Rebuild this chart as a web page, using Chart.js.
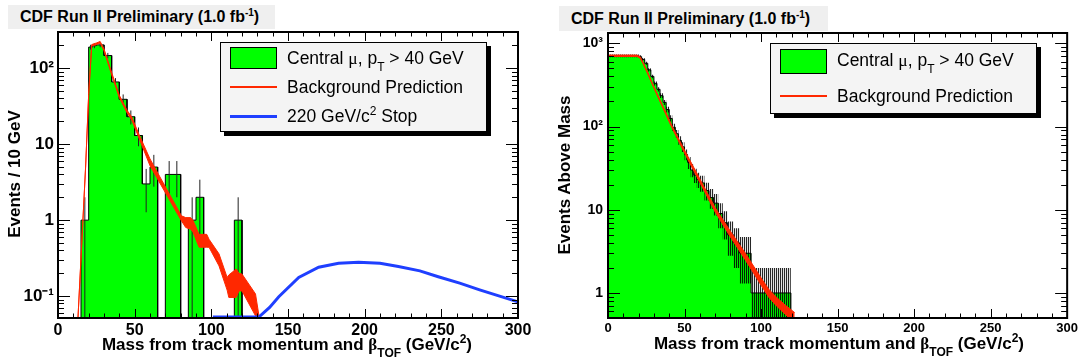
<!DOCTYPE html>
<html>
<head>
<meta charset="utf-8">
<script src="https://cdn.jsdelivr.net/npm/chart.js@4.4.1/dist/chart.umd.min.js"></script>
<style>
  body { margin: 0; background: #fff; font-family: "Liberation Sans", Arial, sans-serif; color: #000; }
  #page { position: relative; width: 1081px; height: 362px; overflow: hidden; }
  canvas { position: absolute; top: 0; }
  #leftCanvas { left: 0; }
  #rightCanvas { left: 540px; }
  .title { position: absolute; background: #efefef; font-weight: bold; font-size: 16px; line-height: 24px; white-space: nowrap; box-sizing: border-box; }
  .title sup { font-size: 10px; vertical-align: 6px; line-height: 0; }
  .legend { position: absolute; background: #f4f4f4; border: 1px solid #000; box-shadow: 4px 4px 0 #000; }
  .legend .item { position: absolute; left: 66px; font-size: 17.5px; line-height: 20px; white-space: nowrap; }
  .legend .box { position: absolute; left: 9px; width: 45px; background: #00ff00; border: 1px solid #000; }
  .legend .line { position: absolute; left: 9px; width: 47px; }
  .legend sub { font-size: 12px; vertical-align: -7px; line-height: 0; }
  .legend sup { font-size: 12px; vertical-align: 7px; line-height: 0; }
  .xtitle { position: absolute; font-weight: bold; font-size: 17px; line-height: 20px; text-align: right; white-space: nowrap; }
  .xtitle sub { font-size: 12px; vertical-align: -7px; line-height: 0; }
  .xtitle sup { font-size: 12px; vertical-align: 7px; line-height: 0; }
  .ytitle { position: absolute; font-weight: bold; font-size: 17px; line-height: 20px; white-space: nowrap; text-align: center; transform: rotate(-90deg); }
  .greek { font-family: "Liberation Serif", "DejaVu Serif", serif; }
</style>
</head>
<body>
<div id="page">
  <canvas id="leftCanvas" width="540" height="362"></canvas>
  <canvas id="rightCanvas" width="541" height="362"></canvas>

  <div class="title" style="left:8px;top:5px;width:267px;height:24px;padding-left:12px">CDF Run II Preliminary (1.0 fb<sup>-1</sup>)</div>
  <div class="title" style="left:559px;top:6px;width:269px;height:25px;padding-left:12px;line-height:25px">CDF Run II Preliminary (1.0 fb<sup>-1</sup>)</div>

  <div class="legend" style="left:220px;top:42px;width:265px;height:88px">
    <div class="box" style="top:4px;height:20px"></div>
    <div class="item" style="top:5px">Central <span class="greek">μ</span>, p<sub>T</sub> &gt; 40 GeV</div>
    <div class="line" style="top:43px;height:2px;background:#ff2800"></div>
    <div class="item" style="top:34px">Background Prediction</div>
    <div class="line" style="top:72px;height:3px;background:#1f3fff"></div>
    <div class="item" style="top:63px">220 GeV/c<sup>2</sup> Stop</div>
  </div>
  <div class="legend" style="left:770px;top:43px;width:265px;height:69px">
    <div class="box" style="top:5px;height:23px"></div>
    <div class="item" style="top:6px">Central <span class="greek">μ</span>, p<sub>T</sub> &gt; 40 GeV</div>
    <div class="line" style="top:51px;height:2px;background:#ff2800"></div>
    <div class="item" style="top:42px">Background Prediction</div>
  </div>

  <div class="xtitle" style="left:0;width:472px;top:335px">Mass from track momentum and <span class="greek">β</span><sub>TOF</sub> (GeV/c<sup>2</sup>)</div>
  <div class="xtitle" style="left:540px;width:484px;top:334px">Mass from track momentum and <span class="greek">β</span><sub>TOF</sub> (GeV/c<sup>2</sup>)</div>
  <div class="ytitle" style="left:-65px;top:164px;width:160px">Events / 10 GeV</div>
  <div class="ytitle" style="left:465px;top:165px;width:200px">Events Above Mass</div>
</div>

<script>
// left plot: mass spectrum, 5 GeV bins
const binLo = [15, 20, 22.5, 25, 30, 35, 40, 45, 50, 55, 60, 70, 75, 85, 90, 115];
const binHi = [20, 22.5, 25, 30, 35, 40, 45, 50, 55, 60, 65, 75, 80, 90, 95, 120];
const counts = [1, 190, 198, 203, 147, 66, 39, 23, 13, 3, 5, 4, 4, 1, 2, 1];
const countErr = [1, 13.8, 14.1, 14.2, 12.1, 8.1, 6.2, 4.8, 3.6, 1.73, 2.24, 2, 2, 1, 1.41, 1];

// background prediction band (left)
const bgMass = [13, 15.5, 18, 20, 22, 25, 27.5, 30, 35, 40, 45, 48, 53, 60, 80.5, 83.3, 86.5, 88, 92, 97, 98.5, 105, 110.3, 111.4, 116.2, 118, 120, 128.8, 131.4, 144];
const bgLow = [0.05, 0.5, 5, 45, 195, 205, 215, 170, 82, 41, 26, 21, 11.8, 5.2, 0.98, 0.8, 0.76, 0.7, 0.44, 0.44, 0.44, 0.25, 0.12, 0.096, 0.096, 0.117, 0.117, 0.055, 0.05, 0.05];
const bgHigh = [0.05, 0.5, 5, 45, 205, 215, 225, 180, 88, 44, 28, 23, 13.2, 6.4, 1.14, 1.08, 1.08, 1.0, 0.65, 0.65, 0.56, 0.36, 0.176, 0.19, 0.227, 0.2, 0.195, 0.107, 0.05, 0.05];

// 220 GeV/c2 stop signal
const stopMass = [101, 131, 138, 144, 157, 170, 183, 196, 210, 222, 236, 248, 262, 275, 288, 300];
const stopEvents = [0.053, 0.053, 0.071, 0.098, 0.176, 0.24, 0.27, 0.28, 0.27, 0.245, 0.215, 0.18, 0.148, 0.121, 0.1, 0.084];

// right plot: events above mass (step starts)
const cutMass = [0, 20.4, 22, 24, 26, 28, 30, 32, 34, 36, 38, 40, 42, 44, 46, 48, 50, 52, 54, 56, 58, 60, 63, 66, 69, 72, 75, 78, 82, 86, 93.5];
const eventsAbove = [705, 690, 640, 575, 480, 400, 330, 280, 235, 195, 160, 125, 98, 82, 68, 57, 46, 37, 30, 26, 23, 21, 17, 14, 12, 9, 7, 5, 4, 3, 1];
const eventsAboveErr = [26.6, 26.3, 25.3, 24, 21.9, 20, 18.2, 16.7, 15.3, 14, 12.6, 11.2, 9.9, 9.1, 8.2, 7.5, 6.8, 6.1, 5.5, 5.1, 4.8, 4.6, 4.1, 3.7, 3.5, 3, 2.6, 2.2, 2, 1.7, 1];
const cutMassEnd = 119.5;

// background prediction (right)
const predMass = [0, 19, 21, 23, 26, 30, 35, 41.7, 50, 60, 70, 80, 90, 100, 105, 110, 116, 122];
const predLow = [694, 694, 662, 563, 428, 289, 181, 97, 48, 21.3, 9.4, 4.7, 2.45, 1.24, 0.89, 0.7, 0.55, 0.43];
const predHigh = [722, 722, 690, 587, 446, 301, 191, 103, 52, 23.5, 10.6, 5.5, 2.95, 1.52, 1.11, 0.89, 0.71, 0.58];

// axis ticks
const xTickStep = 50;
const leftYTickValues = [0.1, 1, 10, 100];
const leftYTickText = ["10⁻¹", "1", "10", "10²"];
const rightYTickValues = [1, 10, 100, 1000];
const rightYTickText = ["1", "10", "10²", "10³"];

const GREEN = "#00ff00";
const RED = "#ff2800";
const BLUE = "#1f3fff";
const FLOOR = 1e-3; // below both y ranges, gets clipped

const toPoints = (xs, ys) => xs.map((x, i) => ({ x, y: ys[i] }));

const histOutline = () => {
  let pts = [];
  binLo.forEach((lo, i) => {
    const hi = binHi[i];
    if (i === 0 || binHi[i - 1] !== lo) pts.push({ x: lo, y: FLOOR });
    pts.push({ x: lo, y: counts[i] }, { x: hi, y: counts[i] });
    if (i === binLo.length - 1 || binLo[i + 1] !== hi) pts.push({ x: hi, y: FLOOR });
  });
  return pts;
};

const errorBars = () => {
  let pts = [];
  binLo.forEach((lo, i) => {
    const mid = (lo + binHi[i]) / 2;
    const low = counts[i] - countErr[i];
    pts.push({ x: mid, y: low > 0 ? low : FLOOR });
    pts.push({ x: mid, y: counts[i] + countErr[i] });
    pts.push({ x: mid, y: null });
  });
  return pts;
};

const stepPoints = (ys) => {
  let pts = cutMass.map((x, i) => ({ x, y: ys[i] > 0 ? ys[i] : FLOOR }));
  pts.push({ x: cutMassEnd, y: FLOOR });
  return pts;
};

const axisFont = (size) => ({ family: "'Liberation Sans', Arial, sans-serif", size, weight: "bold" });

const xScale = (fontSize, pad) => ({
  type: "linear",
  min: 0,
  max: 300,
  afterFit: (s) => { s.height = 44; },
  grid: { display: false, drawTicks: false },
  border: { display: false },
  ticks: { stepSize: xTickStep, color: "#000", font: axisFont(fontSize), padding: pad, maxRotation: 0, autoSkip: false },
});

const yScale = (min, max, vals, text, fontSize, pad, width) => ({
  type: "logarithmic",
  min,
  max,
  afterFit: (s) => { s.width = width; },
  grid: { display: false, drawTicks: false },
  border: { display: false },
  ticks: {
    autoSkip: false,
    color: "#000",
    font: axisFont(fontSize),
    padding: pad,
    callback: (v) => {
      const i = vals.findIndex((t) => Math.abs(t - v) / t < 1e-6);
      return i < 0 ? "" : text[i];
    },
  },
});

// ROOT style frame with ticks pointing inside on all four sides
const frameTicks = {
  id: "frameTicks",
  afterDatasetsDraw(chart, args, o) {
    const { ctx, chartArea: a, scales } = chart;
    const x = scales.x, y = scales.y;
    ctx.save();
    ctx.strokeStyle = "#000";
    ctx.lineWidth = 1;
    ctx.beginPath();
    for (let v = x.min; v <= x.max; v += 10) {
      const px = Math.round(x.getPixelForValue(v)) + 0.5;
      const len = v % xTickStep === 0 ? o.xMajorLen : o.xMinorLen;
      ctx.moveTo(px, a.bottom); ctx.lineTo(px, a.bottom - len);
      ctx.moveTo(px, a.top); ctx.lineTo(px, a.top + len);
    }
    const e0 = Math.floor(Math.log10(y.min)), e1 = Math.ceil(Math.log10(y.max));
    for (let e = e0; e <= e1; e++) {
      for (let m = 1; m < 10; m++) {
        const v = m * Math.pow(10, e);
        if (v < y.min || v > y.max) continue;
        const py = Math.round(y.getPixelForValue(v)) + 0.5;
        const len = m === 1 ? o.yMajorLen : o.yMinorLen;
        ctx.moveTo(a.left, py); ctx.lineTo(a.left + len, py);
        ctx.moveTo(a.right, py); ctx.lineTo(a.right - len, py);
      }
    }
    ctx.stroke();
    ctx.lineWidth = 2;
    ctx.strokeRect(a.left, a.top, a.right - a.left, a.bottom - a.top);
    ctx.restore();
  },
};

const baseOptions = {
  responsive: false,
  animation: false,
  events: [],
  elements: { point: { radius: 0 }, line: { tension: 0 } },
};

// left chart
new Chart(document.getElementById("leftCanvas"), {
  type: "line",
  data: {
    datasets: [
      { data: toPoints(stopMass, stopEvents), borderColor: BLUE, borderWidth: 3, fill: false, order: 0, clip: 3 },
      { data: toPoints(bgMass, bgLow), borderColor: RED, borderWidth: 1, fill: false, order: 1 },
      { data: toPoints(bgMass, bgHigh), borderColor: RED, borderWidth: 1, backgroundColor: RED, fill: "-1", order: 1 },
      { data: errorBars(), borderColor: "#222", borderWidth: 1, fill: false, spanGaps: false, order: 2 },
      { data: histOutline(), borderColor: "#000", borderWidth: 1, backgroundColor: GREEN, fill: "start", order: 3 },
    ],
  },
  options: {
    ...baseOptions,
    layout: { padding: { top: 32, right: 22, left: 0, bottom: 0 } },
    plugins: {
      legend: { display: false },
      tooltip: { enabled: false },
      frameTicks: { xMajorLen: 9, xMinorLen: 4.5, yMajorLen: 12, yMinorLen: 6 },
    },
    scales: {
      x: xScale(16, 3),
      y: yScale(0.0515, 300, leftYTickValues, leftYTickText, 17, 4, 58),
    },
  },
  plugins: [frameTicks],
});

// right chart
const rightCanvas = document.getElementById("rightCanvas");
const hatchTile = document.createElement("canvas");
hatchTile.width = 2;
hatchTile.height = 2;
const hctx = hatchTile.getContext("2d");
hctx.fillStyle = "rgba(0,0,0,0.85)";
hctx.fillRect(0, 0, 1, 2);
hctx.fillStyle = "rgba(0,0,0,0.12)";
hctx.fillRect(1, 0, 1, 2);
const hatch = rightCanvas.getContext("2d").createPattern(hatchTile, "repeat");

const bandLow = eventsAbove.map((n, i) => n - eventsAboveErr[i]);
const bandHigh = eventsAbove.map((n, i) => n + eventsAboveErr[i]);

new Chart(rightCanvas, {
  type: "line",
  data: {
    datasets: [
      { data: toPoints(predMass, predLow), borderColor: RED, borderWidth: 1, fill: false, order: 0 },
      { data: toPoints(predMass, predHigh), borderColor: RED, borderWidth: 1, backgroundColor: RED, fill: "-1", order: 0 },
      { data: stepPoints(eventsAbove), stepped: true, borderColor: "#000", borderWidth: 1, fill: false, order: 1 },
      { data: stepPoints(bandLow), stepped: true, borderWidth: 0, borderColor: "rgba(0,0,0,0)", fill: false, order: 2 },
      { data: stepPoints(bandHigh), stepped: true, borderWidth: 0, borderColor: "rgba(0,0,0,0)", backgroundColor: hatch, fill: "-1", order: 2 },
      { data: stepPoints(eventsAbove), stepped: true, borderWidth: 0, borderColor: "rgba(0,0,0,0)", backgroundColor: GREEN, fill: "start", order: 3 },
    ],
  },
  options: {
    ...baseOptions,
    layout: { padding: { top: 33, right: 13, left: 0, bottom: 0 } },
    plugins: {
      legend: { display: false },
      tooltip: { enabled: false },
      frameTicks: { xMajorLen: 9, xMinorLen: 4.5, yMajorLen: 12, yMinorLen: 6 },
    },
    scales: {
      x: xScale(13, 3),
      y: yScale(0.5, 1330, rightYTickValues, rightYTickText, 14, 5, 68),
    },
  },
  plugins: [frameTicks],
});
</script>
</body>
</html>
